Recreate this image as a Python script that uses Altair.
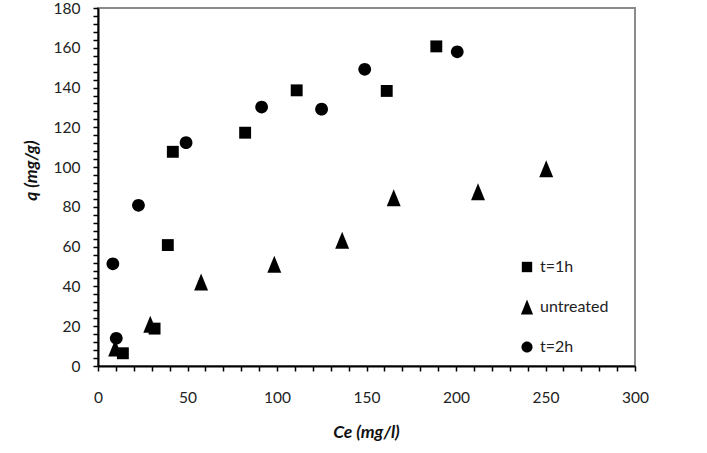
import altair as alt
import pandas as pd

series = ["t=1h", "untreated", "t=2h"]
ce_1h = [13.9, 31.6, 39.0, 41.8, 82.2, 111.0, 161.3, 189.0]
q_1h = [6.4, 18.8, 60.8, 107.7, 117.3, 138.6, 138.3, 160.7]
ce_un = [9.6, 29.2, 57.6, 98.5, 136.4, 165.2, 212.3, 250.4]
q_un = [9.0, 21.0, 42.2, 51.1, 63.2, 84.6, 87.6, 99.2]
ce_2h = [8.3, 10.2, 22.6, 49.2, 91.4, 124.9, 149.0, 200.7]
q_2h = [51.4, 13.9, 80.8, 112.3, 130.2, 129.1, 149.2, 158.0]

x_ticks = list(range(0, 301, 10))
y_ticks = list(range(0, 181, 4))

rows = []
for name, xs, ys in [(series[0], ce_1h, q_1h), (series[1], ce_un, q_un), (series[2], ce_2h, q_2h)]:
    for a, b in zip(xs, ys):
        rows.append({"Ce": a, "q": b, "series": name})
df = pd.DataFrame(rows)

FONT = "Lato"
square = "M-0.7,-0.7H0.7V0.7H-0.7Z"
tri = "M0,-1L0.82,1L-0.82,1Z"
circle = "M0.75,0A0.75,0.75 0 1,1 -0.75,0A0.75,0.75 0 1,1 0.75,0Z"

chart = alt.Chart(df).mark_point(filled=True, opacity=1, color="black", strokeWidth=0, size=289).encode(
    x=alt.X("Ce:Q", scale=alt.Scale(domain=[0, 300], nice=False),
            axis=alt.Axis(title="Ce (mg/l)", values=x_ticks,
                          labelExpr="datum.value % 50 == 0 ? datum.label : ''",
                          grid=False, tickSize=5, labelPadding=19, labelFlush=False,
                          titleX=268, titleY=66, titleAlign="center", titleBaseline="middle")),
    y=alt.Y("q:Q", scale=alt.Scale(domain=[0, 180], nice=False),
            axis=alt.Axis(title="q (mg/g)", values=y_ticks,
                          labelExpr="datum.value % 20 == 0 ? datum.label : ''",
                          grid=False, tickSize=5, labelPadding=13, labelFlush=False,
                          titleX=-67, titleY=162, titleAlign="center", titleBaseline="middle")),
    shape=alt.Shape("series:N", scale=alt.Scale(domain=series, range=[square, tri, circle]),
                    legend=alt.Legend(title=None, orient="none", legendX=421, legendY=251)),
).properties(
    width=537, height=358,
    autosize=alt.AutoSizeParams(type="none"),
    padding={"left": 98, "top": 8, "right": 72, "bottom": 87},
).configure_view(
    stroke="#8a8a8a", strokeWidth=2,
).configure_axis(
    domainColor="black", domainWidth=2, tickColor="black", tickWidth=1.5,
    labelFont=FONT, labelFontSize=15.5, labelColor="#222",
    titleFont=FONT, titleFontSize=17.5, titleFontWeight="bold", titleFontStyle="italic", titleColor="#111",
).configure_legend(
    labelFont=FONT, labelFontSize=16, labelColor="#222",
    symbolFillColor="black", symbolStrokeWidth=0, symbolOpacity=1, symbolSize=220,
    rowPadding=24, labelOffset=5,
)

chart.save("out.html", embed_options={"renderer": "svg", "actions": False})
